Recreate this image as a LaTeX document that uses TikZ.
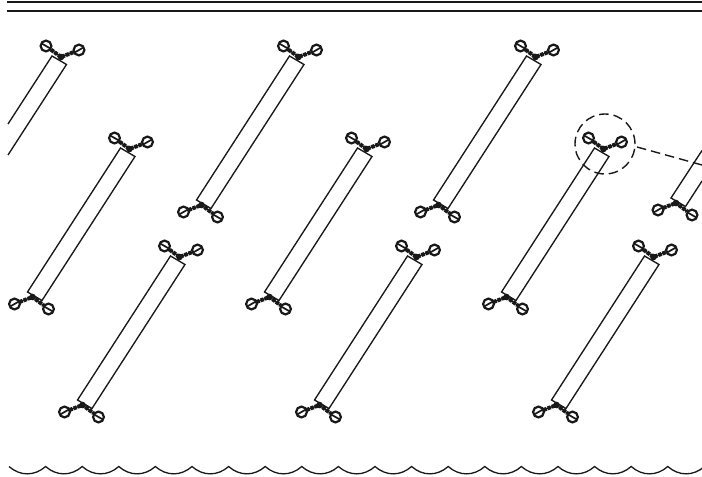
\documentclass[tikz,border=0pt]{standalone}
\usetikzlibrary{calc}
\definecolor{ink}{gray}{0.1}
\tikzset{
  x=1bp,y=-1bp,
  outline/.style={draw=ink,line width=1.35bp,line join=miter},
  rule/.style={draw=ink,line width=1.9bp},
  wavy/.style={draw=ink,line width=1.3bp},
  callout/.style={draw=ink,line width=1.4bp,dash pattern=on 9.5bp off 5bp},
  ring/.style={draw=ink,line width=2.2bp,fill=white},
  slash/.style={draw=ink,line width=1.7bp},
  chainline/.style={draw=ink,line width=1.4bp},
  links/.style={draw=ink,line width=4bp,dash pattern=on 3.4bp off 1bp},
  pics/topgear/.style={code={
    \draw[chainline] (-6,-10) -- (9,1) -- (27,-6);
    \draw[links] (-1,-6.3) -- (9,1) -- (22,-4);
    \fill[ink] (9,1) circle (3.3bp);
    \filldraw[ring] (-6,-10) circle (5.4bp);
    \filldraw[ring] (27,-6) circle (5.4bp);
    \draw[slash] (-10.5,-12.6) -- (-1.5,-7.4);
    \draw[slash] (22.5,-3.4) -- (31.5,-8.6);
  }},
  pics/bottomgear/.style={code={
    \draw[chainline] (-13,12) -- (5,5) -- (21,17);
    \draw[links] (-8,10) -- (5,5) -- (16,13.2);
    \fill[ink] (5,5) circle (3.3bp);
    \filldraw[ring] (-13,12) circle (5.4bp);
    \filldraw[ring] (21,17) circle (5.4bp);
    \draw[slash] (-17.5,14.6) -- (-8.5,9.4);
    \draw[slash] (16.5,14.4) -- (25.5,19.6);
  }},
  pics/fullbar/.style={code={
    \draw[outline] (0,0) -- (14.5,8.5) -- (-78.5,152.5) -- (-93,144) -- cycle;
    \pic at (0,0) {topgear};
    \pic at (-93,144) {bottomgear};
  }}
}
\begin{document}
\begin{tikzpicture}
\useasboundingbox (0,0) rectangle (702,477);
\path[fill=white] (0,0) rectangle (702,477);
\draw[rule] (7,1.6) -- (702,1.6);
\draw[rule] (7,10.8) -- (702,10.8);
% partial bar at the left edge
\draw[outline] (8,124) -- (52,56) -- (66.5,64.5) -- (8,155);
\pic at (52,56) {topgear};
% full bars
\pic at (120.5,148) {fullbar};
\pic at (170.5,256) {fullbar};
\pic at (289.5,56) {fullbar};
\pic at (357.5,148) {fullbar};
\pic at (407.5,256) {fullbar};
\pic at (526.5,56) {fullbar};
\pic at (594.5,148) {fullbar};
\pic at (644.5,256) {fullbar};
% partial bar at the right edge
\draw[outline] (702,150.5) -- (671,198) -- (685.5,206.5) -- (702,181);
\pic at (671,198) {bottomgear};
% callout
\coordinate (focus) at (605,144);
\coordinate (far) at (702,165);
\draw[callout] (focus) circle (30bp);
\draw[callout] (637,147) -- (far);
% water line
\draw[wavy] (9,466.5)
  \foreach \k in {0,...,18} {
    .. controls ({9+36.6*\k+11},{476.3}) and ({9+36.6*\k+25.6},{476.3}) .. ({9+36.6*(\k+1)},466.5)
  };
\end{tikzpicture}
\end{document}
